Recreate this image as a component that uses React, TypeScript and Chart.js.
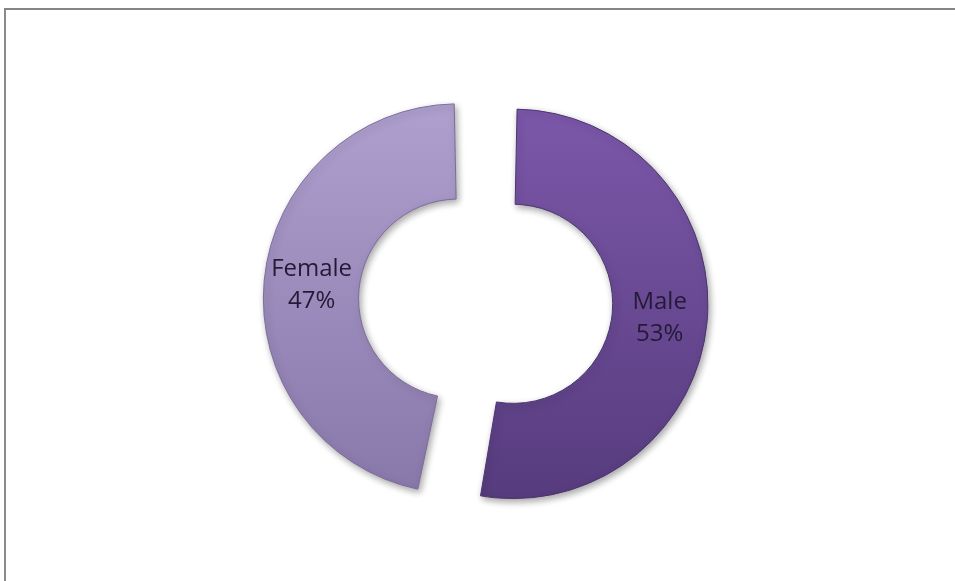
import React, { useEffect, useRef } from "react";
import { Chart, registerables } from "chart.js";

Chart.register(...registerables);

const categories = ["Male", "Female"];
const values = [53, 47];
const percentLabels = ["53%", "47%"];

const topColors = ["#7c58aa", "#afa0cf"];
const bottomColors = ["#563b7d", "#8877a9"];
const borderColors = ["#4d346f", "#7d6c9d"];
const offsets = [99, 122];

const labelPlugin = {
  id: "sliceLabels",
  beforeDatasetsDraw(chart: any) {
    const ctx = chart.ctx;
    ctx.save();
    ctx.shadowColor = "rgba(0,0,0,0.35)";
    ctx.shadowBlur = 7;
    ctx.shadowOffsetX = 2;
    ctx.shadowOffsetY = 3;
  },
  afterDatasetsDraw(chart: any) {
    const ctx = chart.ctx;
    ctx.restore();
    const meta = chart.getDatasetMeta(0);
    ctx.save();
    ctx.font = "24px 'Open Sans'";
    ctx.fillStyle = "#231a36";
    ctx.textAlign = "center";
    ctx.textBaseline = "middle";
    meta.data.forEach((arc: any, i: number) => {
      const p = arc.getProps(["x", "y", "startAngle", "endAngle", "innerRadius", "outerRadius", "circumference"], true);
      const off = (arc.options.offset || 0) / 4;
      const fix = 1 - Math.sin(Math.min(Math.PI, p.circumference || 0));
      const rOff = off * fix;
      const mid = (p.startAngle + p.endAngle) / 2;
      const r = off + (p.innerRadius + p.outerRadius) / 2 + rOff;
      const cx = p.x + Math.cos(mid) * r;
      const cy = p.y + Math.sin(mid) * r;
      ctx.fillText(categories[i], cx, cy - 16);
      ctx.fillText(percentLabels[i], cx, cy + 16);
    });
    ctx.restore();
  },
};

export default function App() {
  const ref = useRef<HTMLCanvasElement | null>(null);
  useEffect(() => {
    if (!ref.current) return;
    const chart = new Chart(ref.current, {
      type: "doughnut",
      data: {
        labels: categories,
        datasets: [
          {
            data: values,
            backgroundColor: (c: any) => {
              const ch = c.chart;
              const area = ch.chartArea;
              const i = c.dataIndex;
              if (!area) return topColors[i];
              const cy = (area.top + area.bottom) / 2;
              const g = ch.ctx.createLinearGradient(0, cy - 200, 0, cy + 200);
              g.addColorStop(0, topColors[i]);
              g.addColorStop(1, bottomColors[i]);
              return g;
            },
            borderColor: borderColors,
            borderWidth: 1,
            offset: offsets,
            hoverOffset: 0,
          },
        ],
      },
      options: {
        responsive: false,
        animation: false,
        radius: 170,
        cutout: "44%",
        layout: { padding: { left: 22, right: 0, top: 22, bottom: 0 } },
        plugins: {
          legend: { display: false },
          tooltip: { enabled: false },
        },
        events: [],
      } as any,
      plugins: [labelPlugin],
    });
    return () => chart.destroy();
  }, []);

  return (
    <div style={{ position: "fixed", left: 0, top: 0, width: 955, height: 581, background: "#fff" }}>
      <canvas ref={ref} width={955} height={581} style={{ position: "absolute", left: 0, top: 0, width: 955, height: 581 }} />
      <div
        style={{
          position: "absolute",
          left: 4,
          top: 8,
          width: 951,
          height: 573,
          borderTop: "2px solid #858585",
          borderLeft: "2px solid #8a8a8a",
          boxSizing: "border-box",
          pointerEvents: "none",
        }}
      />
    </div>
  );
}
